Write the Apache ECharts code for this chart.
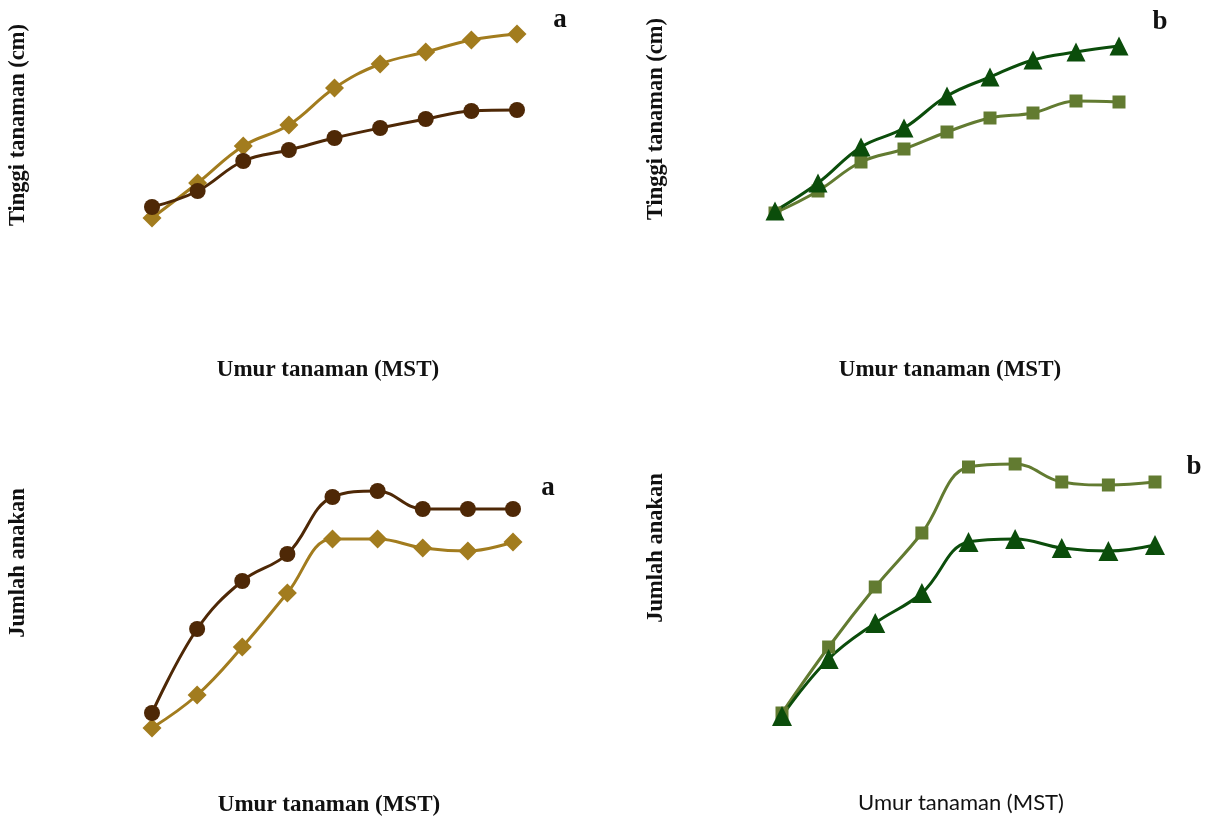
<!DOCTYPE html>
<html>
<head>
<meta charset="utf-8">
<script src="https://cdn.jsdelivr.net/npm/echarts@6/dist/echarts.min.js"></script>
<style>
html,body{margin:0;padding:0;background:#fff;}
#c{width:1206px;height:816px;}
</style>
</head>
<body>
<div id="c"></div>
<script>
// Weeks after planting (MST) - no tick labels shown in the original
var weeks = ['1','2','3','4','5','6','7','8','9'];

// Panel a (top): plant height, arbitrary units (no axis scale in the original)
var heightA_diamond = [6, 23.5, 42, 52.5, 71, 83, 89, 95, 98];
var heightA_circle  = [11.5, 19.5, 34.5, 40, 46, 51, 55.5, 59.5, 60];

// Panel b (top): plant height
var heightB_triangle = [9.5, 23.5, 41.5, 51, 67, 76.5, 85, 89, 92];
var heightB_square   = [8.5, 19.5, 34, 40.5, 49, 56, 58.5, 64.5, 64];

// Panel a (bottom): number of tillers
var tillerA_circle  = [9, 37, 53, 62, 81, 83, 77, 77, 77];
var tillerA_diamond = [4, 15, 31, 49, 67, 67, 64, 63, 66];

// Panel b (bottom): number of tillers
var tillerB_square   = [9, 31, 51, 69, 91, 92, 86, 85, 86];
var tillerB_triangle = [8, 27, 39, 49, 66, 67, 64, 63, 65];

var GOLD = '#A27C1E', BROWN = '#4E2806', DKGREEN = '#0B4D0B', OLIVE = '#627B31';
var serif = '"Liberation Serif", "Times New Roman", serif';

function xAx(g){ return {type:'category', gridIndex:g, data:weeks, boundaryGap:false, show:false}; }
function yAx(g){ return {type:'value', gridIndex:g, min:0, max:100, show:false}; }
function ser(g, data, color, symbol, size){
  return {type:'line', xAxisIndex:g, yAxisIndex:g, data:data, smooth:0.4,
    symbol:symbol, symbolSize:size, showSymbol:true,
    lineStyle:{color:color, width:3}, itemStyle:{color:color}, animation:false};
}
function txt(x, y, s, size, opts){
  opts = opts || {};
  return {type:'text', x:x, y:y, rotation:opts.rot||0, z:10,
    style:{text:s, fill:'#111', font:(opts.weight||'bold')+' '+size+'px '+(opts.family||serif),
      textAlign:'center', textVerticalAlign:'middle'}};
}

var chart = echarts.init(document.getElementById('c'));
chart.setOption({
  backgroundColor:'#fff',
  animation:false,
  grid:[
    {left:152, top:30, width:365, height:200},
    {left:775, top:30, width:344, height:200},
    {left:152, top:440, width:361, height:300},
    {left:782, top:440, width:373, height:300}
  ],
  xAxis:[xAx(0), xAx(1), xAx(2), xAx(3)],
  yAxis:[yAx(0), yAx(1), yAx(2), yAx(3)],
  series:[
    ser(0, heightA_diamond, GOLD, 'diamond', 19),
    ser(0, heightA_circle, BROWN, 'circle', 16),
    ser(1, heightB_square, OLIVE, 'rect', 13),
    ser(1, heightB_triangle, DKGREEN, 'triangle', 19),
    ser(2, tillerA_diamond, GOLD, 'diamond', 19),
    ser(2, tillerA_circle, BROWN, 'circle', 16),
    ser(3, tillerB_square, OLIVE, 'rect', 13),
    ser(3, tillerB_triangle, DKGREEN, 'triangle', 20)
  ],
  graphic:[
    txt(18, 125, 'Tinggi tanaman (cm)', 22.5, {rot:Math.PI/2}),
    txt(656, 119, 'Tinggi tanaman (cm)', 22.5, {rot:Math.PI/2}),
    txt(18, 563, 'Jumlah anakan', 22.5, {rot:Math.PI/2}),
    txt(656, 548, 'Jumlah anakan', 22.5, {rot:Math.PI/2}),
    txt(328, 370, 'Umur tanaman (MST)', 23),
    txt(950, 370, 'Umur tanaman (MST)', 23),
    txt(329, 805, 'Umur tanaman (MST)', 23),
    txt(961, 803, 'Umur tanaman (MST)', 22, {weight:'normal', family:'Lato, "Open Sans", sans-serif'}),
    txt(560, 20, 'a', 27),
    txt(1160, 22, 'b', 27),
    txt(548, 488, 'a', 27),
    txt(1194, 467, 'b', 27)
  ]
});
</script>
</body>
</html>
